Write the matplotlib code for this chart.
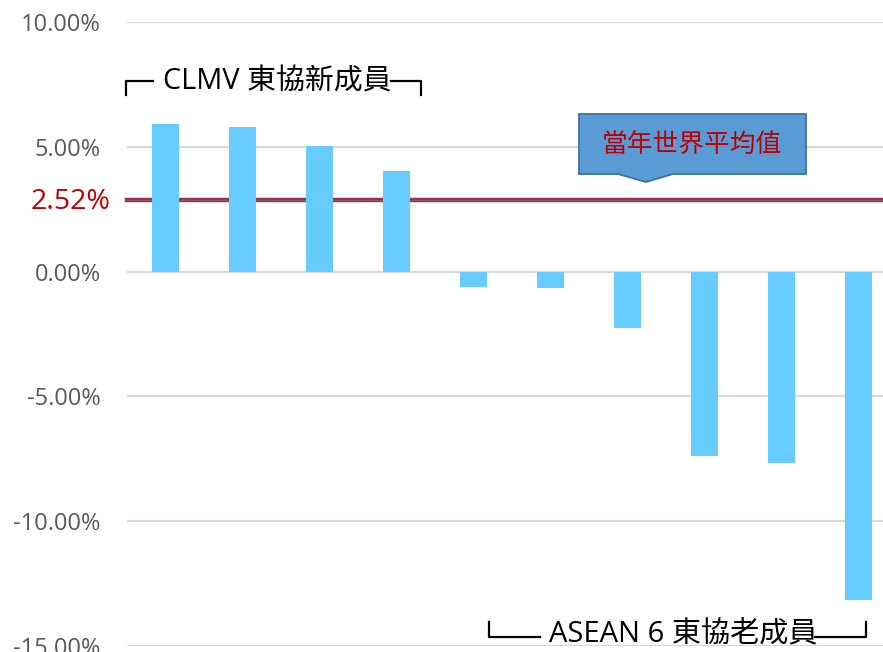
import numpy as np
import matplotlib
matplotlib.use("Agg")
from matplotlib import pyplot as plt
from matplotlib.patches import Polygon

plt.rcParams['font.family'] = ['Open Sans', 'Noto Sans CJK TC', 'DejaVu Sans']

# datos (crecimiento, %)
countries = ['C', 'L', 'M', 'V', 'A1', 'A2', 'A3', 'A4', 'A5', 'A6']
values = [5.9, 5.78, 5.05, 4.02, -0.6, -0.64, -2.25, -7.39, -7.67, -13.17]
yticks = [10, 5, 0, -5, -10, -15]
avg_label = '2.52%'
avg_line = 2.85   # posicion de la linea tal como aparece en la imagen

W, H = 883, 652
fig = plt.figure(figsize=(W / 100, H / 100), dpi=100)


def fx(px):
    return px / W


def fy(py):
    return 1 - py / H


ax = fig.add_axes([fx(127), fy(646), (897 - 127) / W, (646 - 22) / H])
x = np.arange(len(values))
ax.bar(x, values, width=0.34, color='#66CCFF', zorder=3)
ax.set_xlim(-0.5, 9.5)
ax.set_ylim(-15, 10)
ax.set_yticks(yticks)
ax.set_yticklabels(['%.2f%%' % v for v in yticks], fontsize=17, color='#595959')
ax.tick_params(axis='y', length=0, pad=19)
ax.set_xticks([])
ax.grid(axis='y', color='#D9D9D9', linewidth=1.6, zorder=0)
for s in ax.spines.values():
    s.set_visible(False)

# linea del promedio mundial
ax.axhline(avg_line, xmin=0.0, xmax=1, color='#B0283A', linewidth=3.2,
           zorder=2, clip_on=False)
ax.axhline(avg_line, xmin=0.0, xmax=1, color='#6F5F7F', linewidth=1.0,
           zorder=2, clip_on=False)
fig.text(fx(110), fy(202), avg_label, color='#C00000', fontsize=20.5,
         ha='right', va='center')

# llamada "當年世界平均值"
box = [(579, 114), (806, 114), (806, 174), (673, 174), (646, 182),
       (618, 174), (579, 174)]
fig.patches.append(Polygon([(fx(a), fy(b)) for a, b in box], closed=True,
                           transform=fig.transFigure, facecolor='#5B9BD5',
                           edgecolor='#41719C', linewidth=1.3))
fig.text(fx(692), fy(145), '當年世界平均值', color='#C00000', fontsize=18.5,
         ha='center', va='center')


def linea(pts):
    fig.add_artist(plt.Line2D([fx(p[0]) for p in pts], [fy(p[1]) for p in pts],
                              color='black', linewidth=1.6,
                              transform=fig.transFigure))


# corchete superior: CLMV
linea([(126, 95), (126, 81), (153, 81)])
linea([(391, 81), (421, 81), (421, 95)])
fig.text(fx(163), fy(82), 'CLMV 東協新成員', fontsize=20.8, ha='left',
         va='center', color='black')

# corchete inferior: ASEAN 6
linea([(489, 622), (489, 637), (540, 637)])
linea([(815, 637), (866, 637), (866, 622)])
fig.text(fx(549), fy(635), 'ASEAN 6 東協老成員', fontsize=21, ha='left',
         va='center', color='black')

fig.savefig('out.png', dpi=100)
